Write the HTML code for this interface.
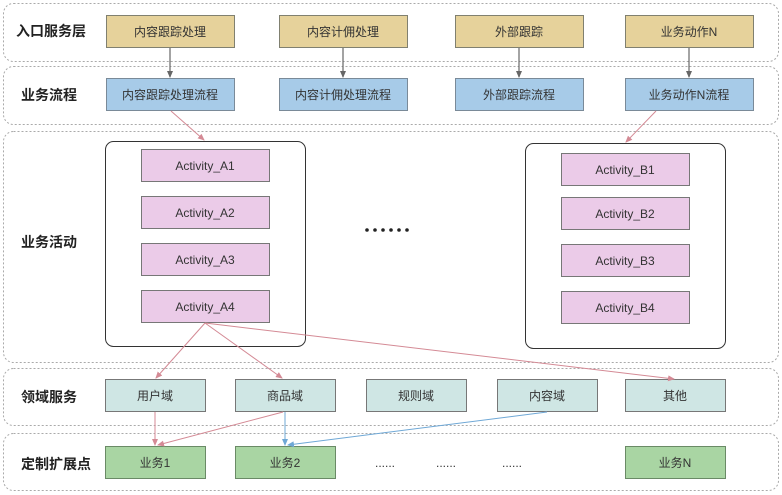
<!DOCTYPE html>
<html><head><meta charset="utf-8"><style>
html,body{margin:0;padding:0;background:#fff;}
svg{display:block;}
text{font-family:"Liberation Sans","Noto Sans CJK SC",sans-serif;}
</style></head><body>
<svg width="782" height="495" viewBox="0 0 782 495" xmlns="http://www.w3.org/2000/svg">
<defs>
<marker id="ag" markerWidth="8" markerHeight="8" refX="6" refY="3" orient="auto" markerUnits="userSpaceOnUse"><path d="M0,0 L7,3 L0,6 Z" fill="#666"/></marker>
<marker id="ar" markerWidth="8" markerHeight="8" refX="6" refY="3" orient="auto" markerUnits="userSpaceOnUse"><path d="M0,0 L7,3 L0,6 Z" fill="#d48a95"/></marker>
<marker id="ab" markerWidth="8" markerHeight="8" refX="6" refY="3" orient="auto" markerUnits="userSpaceOnUse"><path d="M0,0 L7,3 L0,6 Z" fill="#6fa8d6"/></marker>
</defs>
<g fill="none" stroke="#aaa" stroke-width="1" stroke-dasharray="2,2">
<rect x="3.5" y="3.5" width="775" height="58" rx="10"/>
<rect x="3.5" y="66.5" width="775" height="58" rx="10"/>
<rect x="3.5" y="131.5" width="775" height="231" rx="10"/>
<rect x="3.5" y="368.5" width="775" height="57" rx="10"/>
<rect x="3.5" y="433.5" width="775" height="57" rx="10"/>
</g>
<g font-size="14" font-weight="bold" fill="#222">
<text x="16" y="36">入口服务层</text>
<text x="21" y="100">业务流程</text>
<text x="21" y="247">业务活动</text>
<text x="21" y="402">领域服务</text>
<text x="21" y="469">定制扩展点</text>
</g>
<g stroke="#808070" stroke-width="1" fill="#e6d29b">
<rect x="106.5" y="15.5" width="128" height="32"/><rect x="279.5" y="15.5" width="128" height="32"/>
<rect x="455.5" y="15.5" width="128" height="32"/><rect x="625.5" y="15.5" width="128" height="32"/>
</g>
<g stroke="#7a8a98" fill="#a7cbe8">
<rect x="106.5" y="78.5" width="128" height="32"/><rect x="279.5" y="78.5" width="128" height="32"/>
<rect x="455.5" y="78.5" width="128" height="32"/><rect x="625.5" y="78.5" width="128" height="32"/>
</g>
<g font-size="12" fill="#333" text-anchor="middle">
<text x="170" y="36">内容跟踪处理</text><text x="343" y="36">内容计佣处理</text>
<text x="519" y="36">外部跟踪</text><text x="689" y="36">业务动作N</text>
<text x="170" y="99">内容跟踪处理流程</text><text x="343" y="99">内容计佣处理流程</text>
<text x="519" y="99">外部跟踪流程</text><text x="689" y="99">业务动作N流程</text>
</g>
<g fill="none" stroke="#333"><rect x="105.5" y="141.5" width="200" height="205" rx="8"/><rect x="525.5" y="143.5" width="200" height="205" rx="8"/></g>
<g stroke="#777" fill="#ebcbe8">
<rect x="141.5" y="149.5" width="128" height="32"/><rect x="141.5" y="196.5" width="128" height="32"/>
<rect x="141.5" y="243.5" width="128" height="32"/><rect x="141.5" y="290.5" width="128" height="32"/>
<rect x="561.5" y="153.5" width="128" height="32"/><rect x="561.5" y="197.5" width="128" height="32"/>
<rect x="561.5" y="244.5" width="128" height="32"/><rect x="561.5" y="291.5" width="128" height="32"/>
</g>
<g font-size="12" fill="#333" text-anchor="middle">
<text x="205" y="170">Activity_A1</text><text x="205" y="217">Activity_A2</text>
<text x="205" y="264">Activity_A3</text><text x="205" y="311">Activity_A4</text>
<text x="625" y="174">Activity_B1</text><text x="625" y="218">Activity_B2</text>
<text x="625" y="265">Activity_B3</text><text x="625" y="312">Activity_B4</text>
</g>
<g fill="#222">
<circle cx="367" cy="230" r="1.8"/><circle cx="375" cy="230" r="1.8"/><circle cx="383" cy="230" r="1.8"/>
<circle cx="391" cy="230" r="1.8"/><circle cx="399" cy="230" r="1.8"/><circle cx="407" cy="230" r="1.8"/>
</g>
<g stroke="#777" fill="#cfe6e4">
<rect x="105.5" y="379.5" width="100" height="32"/><rect x="235.5" y="379.5" width="100" height="32"/>
<rect x="366.5" y="379.5" width="100" height="32"/><rect x="497.5" y="379.5" width="100" height="32"/>
<rect x="625.5" y="379.5" width="100" height="32"/>
</g>
<g stroke="#6a8a66" fill="#a9d5a3">
<rect x="105.5" y="446.5" width="100" height="32"/><rect x="235.5" y="446.5" width="100" height="32"/>
<rect x="625.5" y="446.5" width="100" height="32"/>
</g>
<g font-size="12" fill="#333" text-anchor="middle">
<text x="155" y="400">用户域</text><text x="285" y="400">商品域</text><text x="416" y="400">规则域</text>
<text x="547" y="400">内容域</text><text x="675" y="400">其他</text>
<text x="155" y="467">业务1</text><text x="285" y="467">业务2</text><text x="675" y="467">业务N</text>
<text x="385" y="467">......</text><text x="446" y="467">......</text><text x="512" y="467">......</text>
</g>
<g stroke="#666" stroke-width="1.2" marker-end="url(#ag)">
<line x1="170" y1="48" x2="170" y2="77"/><line x1="343" y1="48" x2="343" y2="77"/>
<line x1="519" y1="48" x2="519" y2="77"/><line x1="689" y1="48" x2="689" y2="77"/>
</g>
<g stroke="#d48a95" stroke-width="1" fill="none" marker-end="url(#ar)">
<line x1="171" y1="111" x2="204" y2="140"/>
<line x1="656" y1="111" x2="626" y2="142"/>
<line x1="205" y1="323" x2="156" y2="378"/>
<line x1="205" y1="323" x2="282" y2="378"/>
<line x1="205" y1="323" x2="674" y2="379"/>
<line x1="155" y1="412" x2="155" y2="445"/>
<line x1="283" y1="412" x2="158" y2="445"/>
</g>
<g stroke="#6fa8d6" stroke-width="1" fill="none" marker-end="url(#ab)">
<line x1="285" y1="412" x2="285" y2="445"/>
<line x1="547" y1="412" x2="288" y2="445"/>
</g>
</svg>
</body></html>
